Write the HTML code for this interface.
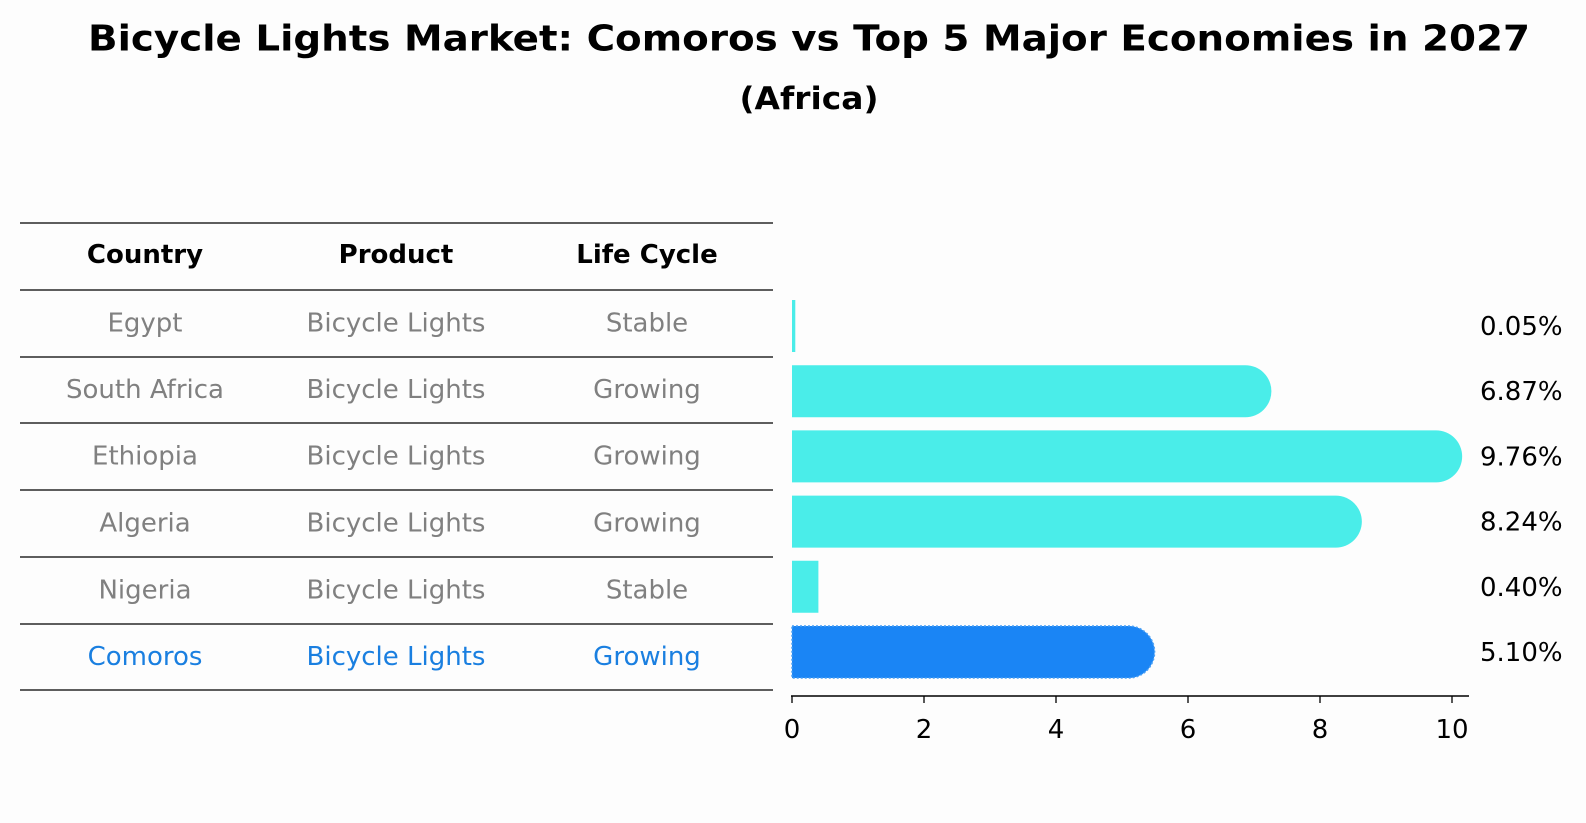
<!DOCTYPE html>
<html><head><meta charset="utf-8"><style>
body{margin:0;background:#fdfdfd;}
svg{display:block;font-family:"DejaVu Sans","Liberation Sans",sans-serif;}
</style></head><body>
<svg id="chart" width="1586" height="823" viewBox="0 0 1586 823">
<rect width="1586" height="823" fill="#fdfdfd"/>
<text x="809" y="39" dominant-baseline="central" text-anchor="middle" font-size="36" font-weight="bold" textLength="1442" lengthAdjust="spacingAndGlyphs">Bicycle Lights Market: Comoros vs Top 5 Major Economies in 2027</text>
<text x="809" y="99" dominant-baseline="central" text-anchor="middle" font-size="31" font-weight="bold" textLength="139" lengthAdjust="spacingAndGlyphs">(Africa)</text>
<g id="table"></g>
<g id="bars"></g>
</svg>
<script>
const countries=["Egypt","South Africa","Ethiopia","Algeria","Nigeria","Comoros"];
const products=["Bicycle Lights","Bicycle Lights","Bicycle Lights","Bicycle Lights","Bicycle Lights","Bicycle Lights"];
const lifeCycles=["Stable","Growing","Growing","Growing","Stable","Growing"];
const values=[0.05,6.87,9.76,8.24,0.40,5.10];
const valueLabels=["0.05%","6.87%","9.76%","8.24%","0.40%","5.10%"];
const ticks=[0,2,4,6,8,10];
const highlight="Comoros";

const NS="http://www.w3.org/2000/svg";
function mk(tag,attrs,parent){const e=document.createElementNS(NS,tag);for(const k in attrs)e.setAttribute(k,attrs[k]);parent.appendChild(e);return e;}
const x=v=>792+v*66;
const rowY=i=>326+i*65.2;
const barH=52;

const table=document.getElementById('table');
const lineYs=[223,290];
for(let i=0;i<countries.length;i++)lineYs.push(Math.round(290+(i+1)*66.7));
lineYs.forEach((ly,i)=>{
 const l=mk('line',{x1:20,x2:773,y1:ly,y2:ly,stroke:'#000','stroke-width':1.2},table);
 
 
});
const colX=[145,396,647];
["Country","Product","Life Cycle"].forEach((h,j)=>{
 const t=mk('text',{x:colX[j],y:255,'dominant-baseline':'central','text-anchor':'middle','font-size':26,'font-weight':'bold'},table);
 t.textContent=h;
 
 
});
countries.forEach((c,i)=>{
 const cy=(lineYs[i+1]+lineYs[i+2])/2;
 const col=c===highlight?'#1a7fe0':'#808080';
 [c,products[i],lifeCycles[i]].forEach((v,j)=>{
  const t=mk('text',{x:colX[j],y:cy,'dominant-baseline':'central','text-anchor':'middle','font-size':26,fill:col},table);
  t.textContent=v;
  
  
 });
});

const bars=document.getElementById('bars');
values.forEach((v,i)=>{
 const cy=rowY(i),top=cy-barH/2,x0=x(0),x1=x(v),r=barH/2;
 const isH=countries[i]===highlight;
 const fill=isH?'#1a85f5':'#4aede9';
 let d;
 if(v>=1){d=`M${x0},${top}H${x1}A${r},${r} 0 0 1 ${x1},${top+barH}H${x0}Z`;}
 else{d=`M${x0},${top}H${x1}V${top+barH}H${x0}Z`;}
 const p=mk('path',{d:d,fill:fill},bars);
 if(isH){p.setAttribute('stroke','#4aa0f5');p.setAttribute('stroke-dasharray','2 2');p.setAttribute('stroke-width','1.5');}
 
 
 const t=mk('text',{x:1480,y:cy+1,'dominant-baseline':'central','font-size':26},bars);
 t.textContent=valueLabels[i];
 
 
});
const ax=mk('line',{x1:x(0)-1,x2:1469,y1:696,y2:696,stroke:'#000','stroke-width':1.5},bars);


ticks.forEach(tv=>{
 const l=mk('line',{x1:x(tv),x2:x(tv),y1:696,y2:703,stroke:'#000','stroke-width':1.3},bars);
 
 
 const t=mk('text',{x:x(tv),y:730,'dominant-baseline':'central','text-anchor':'middle','font-size':26},bars);
 t.textContent=tv;
 
 
});
</script>
</body></html>
